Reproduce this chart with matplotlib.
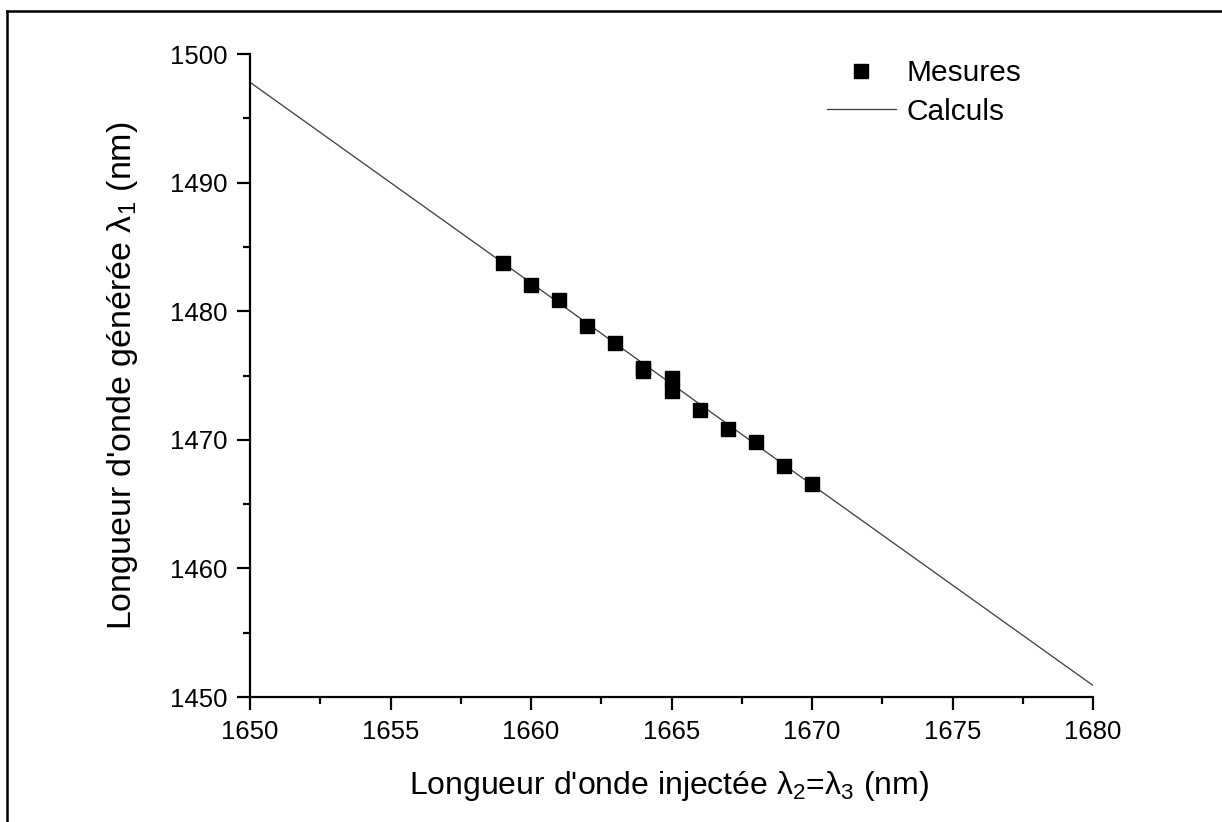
import matplotlib
matplotlib.use("Agg")
import matplotlib.pyplot as plt
from matplotlib.lines import Line2D
from matplotlib.ticker import MultipleLocator

plt.rcParams['font.family'] = ['Liberation Sans', 'DejaVu Sans']
plt.rcParams['mathtext.default'] = 'regular'

# Measured wavelengths (nm)
meas_injected = [1659, 1660, 1661, 1662, 1663, 1664, 1664, 1665, 1665,
                 1666, 1667, 1668, 1669, 1670]
meas_generated = [1483.75, 1482.0, 1480.9, 1478.88, 1477.55, 1475.6, 1475.35,
                  1474.8, 1473.82, 1472.35, 1470.86, 1469.8, 1468.0, 1466.6]

# Calculated curve (nm)
calc_injected = [1650, 1660, 1670, 1680]
calc_generated = [1497.8, 1482.2, 1466.5, 1450.9]

fig = plt.figure(figsize=(12.22, 8.22), dpi=100)
ax = fig.add_axes([250 / 1222, 1 - 697 / 822, 843 / 1222, 643 / 822])

ax.plot(calc_injected, calc_generated, color='#3a3a3a', lw=0.9, label='Calculs',
        zorder=2)
ax.plot(meas_injected, meas_generated, ls='none', marker='s', ms=9.5,
        color='black', label='Mesures', zorder=3)

ax.set_xlim(1650, 1680)
ax.set_ylim(1450, 1500)
ax.xaxis.set_major_locator(MultipleLocator(5))
ax.xaxis.set_minor_locator(MultipleLocator(2.5))
ax.yaxis.set_major_locator(MultipleLocator(10))
ax.yaxis.set_minor_locator(MultipleLocator(5))

for side in ('top', 'right'):
    ax.spines[side].set_visible(False)
for side in ('left', 'bottom'):
    ax.spines[side].set_linewidth(1.6)

ax.tick_params(which='major', direction='out', length=9.5, width=1.6,
               labelsize=18.5, pad=7)
ax.tick_params(which='minor', direction='out', length=5, width=1.6)

ax.set_xlabel("Longueur d'onde injectée λ$_2$=λ$_3$ (nm)", fontsize=23)
ax.set_ylabel("Longueur d'onde générée λ$_1$ (nm)", fontsize=24.5)
ax.xaxis.set_label_coords(0.497, -0.112)
ax.yaxis.set_label_coords(-0.131, 0.5)

handles, labels = ax.get_legend_handles_labels()
leg = ax.legend(handles[::-1], labels[::-1], frameon=False, fontsize=21.5,
                handlelength=2.33, handletextpad=0.33, labelspacing=0.35,
                loc='upper left', bbox_to_anchor=(0.684, 0.992),
                borderaxespad=0.0, borderpad=0.0)

# Outer frame around the figure (left and top edges)
fig.add_artist(Line2D([7 / 1222, 7 / 1222], [0, 1 - 11 / 822],
                      color='black', lw=1.8, transform=fig.transFigure))
fig.add_artist(Line2D([7 / 1222, 1], [1 - 11 / 822, 1 - 11 / 822],
                      color='black', lw=1.8, transform=fig.transFigure))

fig.savefig('out.png', dpi=100)
